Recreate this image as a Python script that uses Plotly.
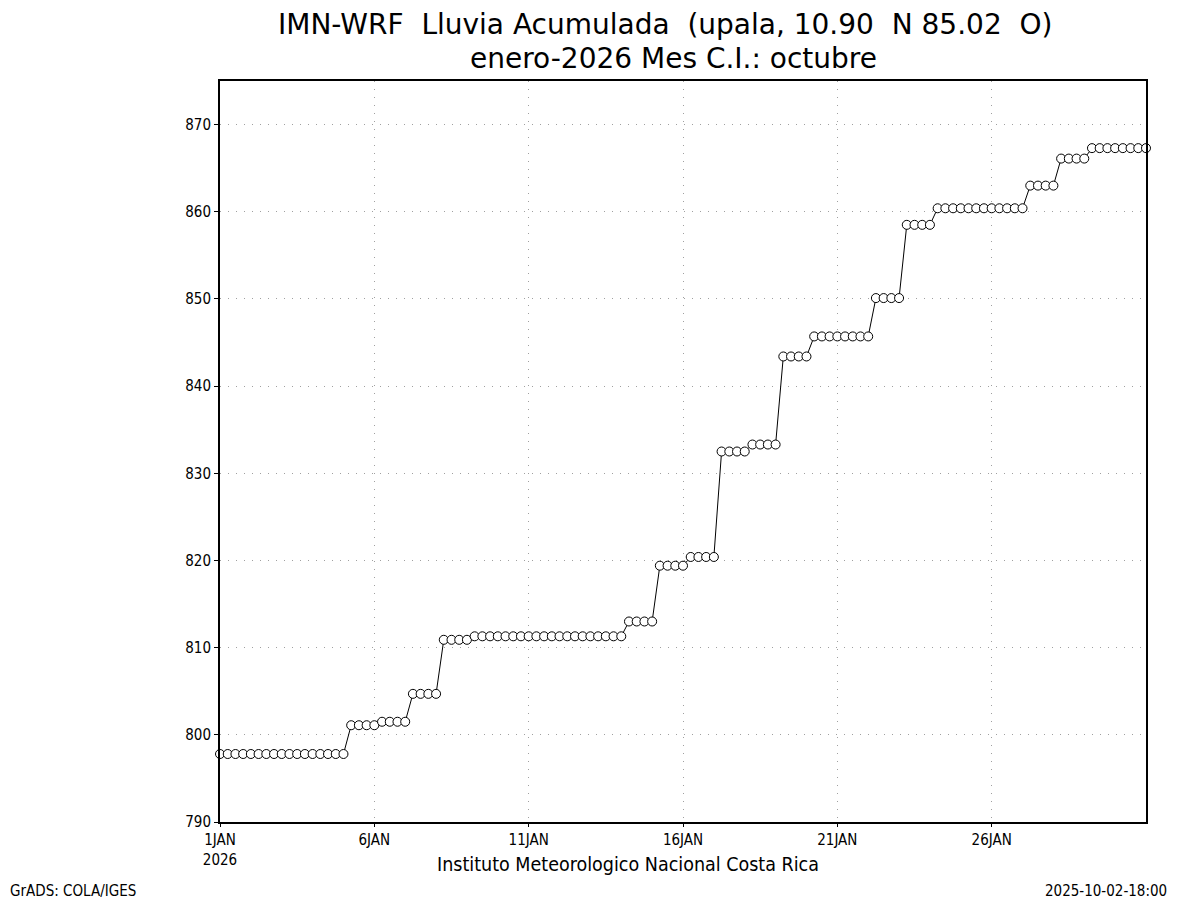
import pandas as pd
import plotly.graph_objects as go

# Accumulated rainfall (mm), every 6 hours from 1 Jan 2026 00Z
values = (
    [797.8] * 17 + [801.1] * 4 + [801.5] * 4 + [804.7] * 4 + [810.9] * 4 +
    [811.3] * 20 + [813.0] * 4 + [819.4] * 4 + [820.4] * 4 + [832.5] * 4 +
    [833.3] * 4 + [843.4] * 4 + [845.7] * 8 + [850.1] * 4 + [858.5] * 4 +
    [860.4] * 12 + [863.0] * 4 + [866.1] * 4 + [867.3] * 8
)
start = "2026-01-01 00:00"
step = "6h"
times = pd.date_range(start, periods=len(values), freq=step)

x_tickvals = ["2026-01-01", "2026-01-06", "2026-01-11", "2026-01-16", "2026-01-21", "2026-01-26"]
x_ticktext = ["1JAN<br>2026", "6JAN", "11JAN", "16JAN", "21JAN", "26JAN"]
y_tickvals = [790, 800, 810, 820, 830, 840, 850, 860, 870]

title1 = "IMN-WRF  Lluvia Acumulada  (upala, 10.90  N 85.02  O)"
title2 = "enero-2026 Mes C.I.: octubre"
footer = "Instituto Meteorologico Nacional Costa Rica"
left_note = "GrADS: COLA/IGES"
right_note = "2025-10-02-18:00"

FONT = "Liberation Sans Narrow, DejaVu Sans Condensed, Arial Narrow, sans-serif"
TFONT = "DejaVu Sans, sans-serif"

# page offset of the figure inside the browser window
OFF = 7
W, H = 1200 - OFF, 900 - OFF
L, R_EDGE, T, B_EDGE = 219 - OFF, 1145 - OFF, 80 - OFF, 821 - OFF
pw, ph = R_EDGE - L, B_EDGE - T


def px(xs):
    return (xs - OFF - L) / pw


def py(ys):
    return (B_EDGE - (ys - OFF)) / ph


fig = go.Figure()
fig.add_trace(go.Scatter(
    x=times, y=values, mode="lines+markers",
    line=dict(color="black", width=1),
    marker=dict(symbol="circle", size=9, color="white",
                line=dict(color="black", width=1)),
    showlegend=False, cliponaxis=False,
))

grid = dict(showgrid=True, gridcolor="#a0a0a0", griddash="1px,7px", gridwidth=1)

fig.update_layout(
    width=W, height=H,
    margin=dict(l=L, r=W - R_EDGE, t=T, b=H - B_EDGE),
    paper_bgcolor="white", plot_bgcolor="white",
    font=dict(family=FONT, color="black", size=15),
    xaxis=dict(
        range=[times[0], times[-1]],
        tickvals=x_tickvals, ticktext=x_ticktext,
        showline=True, linecolor="black", linewidth=2, mirror=True,
        ticks="outside", ticklen=3, tickcolor="black",
        zeroline=False, tickfont=dict(size=15), **grid,
    ),
    yaxis=dict(
        range=[790, 875],
        tickvals=y_tickvals,
        showline=True, linecolor="black", linewidth=2, mirror=True,
        ticks="outside", ticklen=4, tickcolor="black",
        zeroline=False, tickfont=dict(size=15), **grid,
    ),
    annotations=[
        dict(text=title1, x=px(664), y=py(24), xref="paper", yref="paper",
             showarrow=False, font=dict(size=28, family=TFONT),
             xanchor="center", yanchor="middle"),
        dict(text=title2, x=px(672), y=py(57), xref="paper", yref="paper",
             showarrow=False, font=dict(size=28, family=TFONT),
             xanchor="center", yanchor="middle"),
        dict(text=footer, x=px(627), y=py(863), xref="paper", yref="paper",
             showarrow=False, font=dict(size=19.5, family=FONT),
             xanchor="center", yanchor="middle"),
        dict(text=left_note, x=px(7), y=py(890), xref="paper", yref="paper",
             showarrow=False, font=dict(size=15, family=FONT),
             xanchor="left", yanchor="middle"),
        dict(text=right_note, x=px(1168), y=py(890), xref="paper", yref="paper",
             showarrow=False, font=dict(size=15, family=FONT),
             xanchor="right", yanchor="middle"),
    ],
)

fig.write_html("out.html")
